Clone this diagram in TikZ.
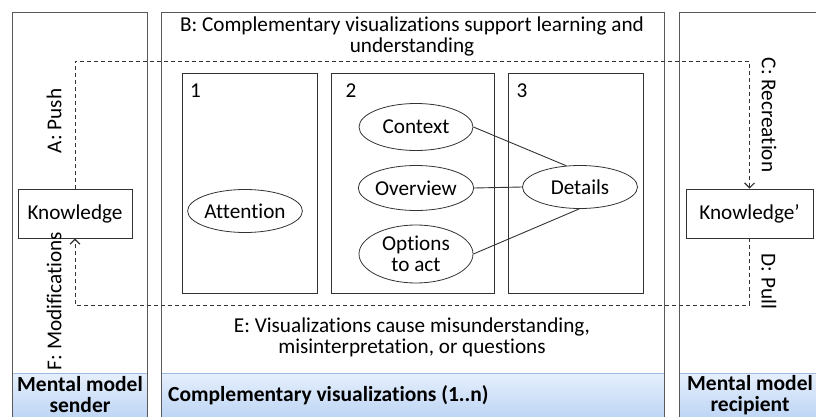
\documentclass[tikz,border=0pt]{standalone}
\usepackage{fontspec}
\setmainfont{Carlito}[Ligatures=NoCommon]
\usetikzlibrary{shapes.geometric,arrows.meta}
\definecolor{bandtop}{HTML}{E6EFFC}
\definecolor{bandbot}{HTML}{BCD4F4}
\definecolor{bandline}{HTML}{9DB9DE}
\begin{document}
\begin{tikzpicture}[x=1pt,y=-1pt,
  font=\fontsize{21.2}{21}\selectfont,
  outerbox/.style={draw=black!65, line width=1pt},
  bandfill/.style={top color=bandtop, bottom color=bandbot, draw=bandline, line width=0.8pt},
  innerbox/.style={draw=black!80, line width=1.2pt, anchor=north west, inner sep=0pt},
  oval/.style={ellipse, draw=black!80, line width=0.8pt, minimum width=114pt, inner sep=0pt, align=center},
  kbox/.style={draw=black!80, line width=0.9pt, rectangle, minimum height=49pt, inner sep=0pt},
  flow/.style={draw=black!80, line width=0.9pt, dash pattern=on 4pt off 3pt},
  flowarrow/.style={flow, -{Straight Barb[length=5pt,width=10pt,line width=1.1pt]}},
  link/.style={draw=black!80, line width=0.9pt},
  bandtext/.style={font=\fontsize{21.5}{21}\selectfont\bfseries, align=center},
  lbl/.style={inner sep=0pt, align=center}
]
\useasboundingbox (0,0) rectangle (816,417);
% bands
\fill[bandfill] (12,373) rectangle (147,420);
\fill[bandfill] (161,373) rectangle (664,420);
\fill[bandfill] (679,373) rectangle (830,420);
\draw[bandline, line width=0.8pt] (12,373) -- (147,373) (161,373) -- (664,373) (679,373) -- (830,373);
% outer containers
\node[outerbox, anchor=north west, minimum width=135pt, minimum height=410pt, inner sep=0pt] (sender) at (12,12) {};
\node[outerbox, anchor=north west, minimum width=503pt, minimum height=410pt, inner sep=0pt] (vis) at (161,12) {};
\node[outerbox, anchor=north west, minimum width=150pt, minimum height=410pt, inner sep=0pt] (recip) at (679,12) {};
% inner boxes
\node[innerbox, minimum width=135pt, minimum height=220pt] (box1) at (182,73) {};
\node[innerbox, minimum width=163pt, minimum height=220pt] (box2) at (331,73) {};
\node[innerbox, minimum width=135pt, minimum height=220pt] (box3) at (508,73) {};
\node[lbl] (n1) at (195.5,91) {1};
\node[lbl] (n2) at (351,91) {2};
\node[lbl] (n3) at (522,91) {3};
% ellipses
\node[oval, minimum width=112pt, minimum height=43pt] (att) at (245,211) {Attention};
\node[oval, minimum height=47pt] (ctx) at (416,127) {Context};
\node[oval, minimum height=45pt] (ovw) at (416,188) {Overview};
\node[oval, minimum height=58pt] (opt) at (416,254) {Options\\to act};
\node[oval, minimum width=115pt, minimum height=43pt] (det) at (580,187) {Details};
\draw[link] (ctx.east) -- (det.123);
\draw[link] (ovw.east) -- (det.west);
\draw[link] (opt.east) -- (det.268);
% knowledge boxes
\node[kbox, minimum width=114pt] (k1) at (75,213.5) {Knowledge};
\node[kbox, minimum width=127pt] (k2) at (749.5,213.5) {Knowledge’};
\coordinate (tl) at (75,61);
\coordinate (tr) at (749.5,61);
\coordinate (bl) at (75,305);
\coordinate (br) at (749.5,305);
\draw[flowarrow] (k1.north) -- (tl) -- (tr) -- (k2.north);
\draw[flowarrow] (k2.south) -- (br) -- (bl) -- (k1.south);
% texts
\node[lbl] (btext) at (412,36.5) {B: Complementary visualizations support learning and\\understanding};
\node[lbl] (etext) at (412,337.5) {E: Visualizations cause misunderstanding,\\misinterpretation, or questions};
\node[lbl, rotate=90] (apush) at (54,121) {A: Push};
\node[lbl, rotate=90] (fmod) at (54,301) {F: Modifications};
\node[lbl, rotate=-90] (crec) at (769,115) {C: Recreation};
\node[lbl, rotate=-90] (dpull) at (769,281.5) {D: Pull};
% band labels
\node[bandtext, lbl] (bs) at (80,395) {Mental model\\sender};
\node[bandtext, lbl, anchor=west] (bv) at (168,395) {Complementary visualizations (1..n)};
\node[bandtext, lbl] (br2) at (750,395) {Mental model\\recipient};
\end{tikzpicture}
\end{document}
